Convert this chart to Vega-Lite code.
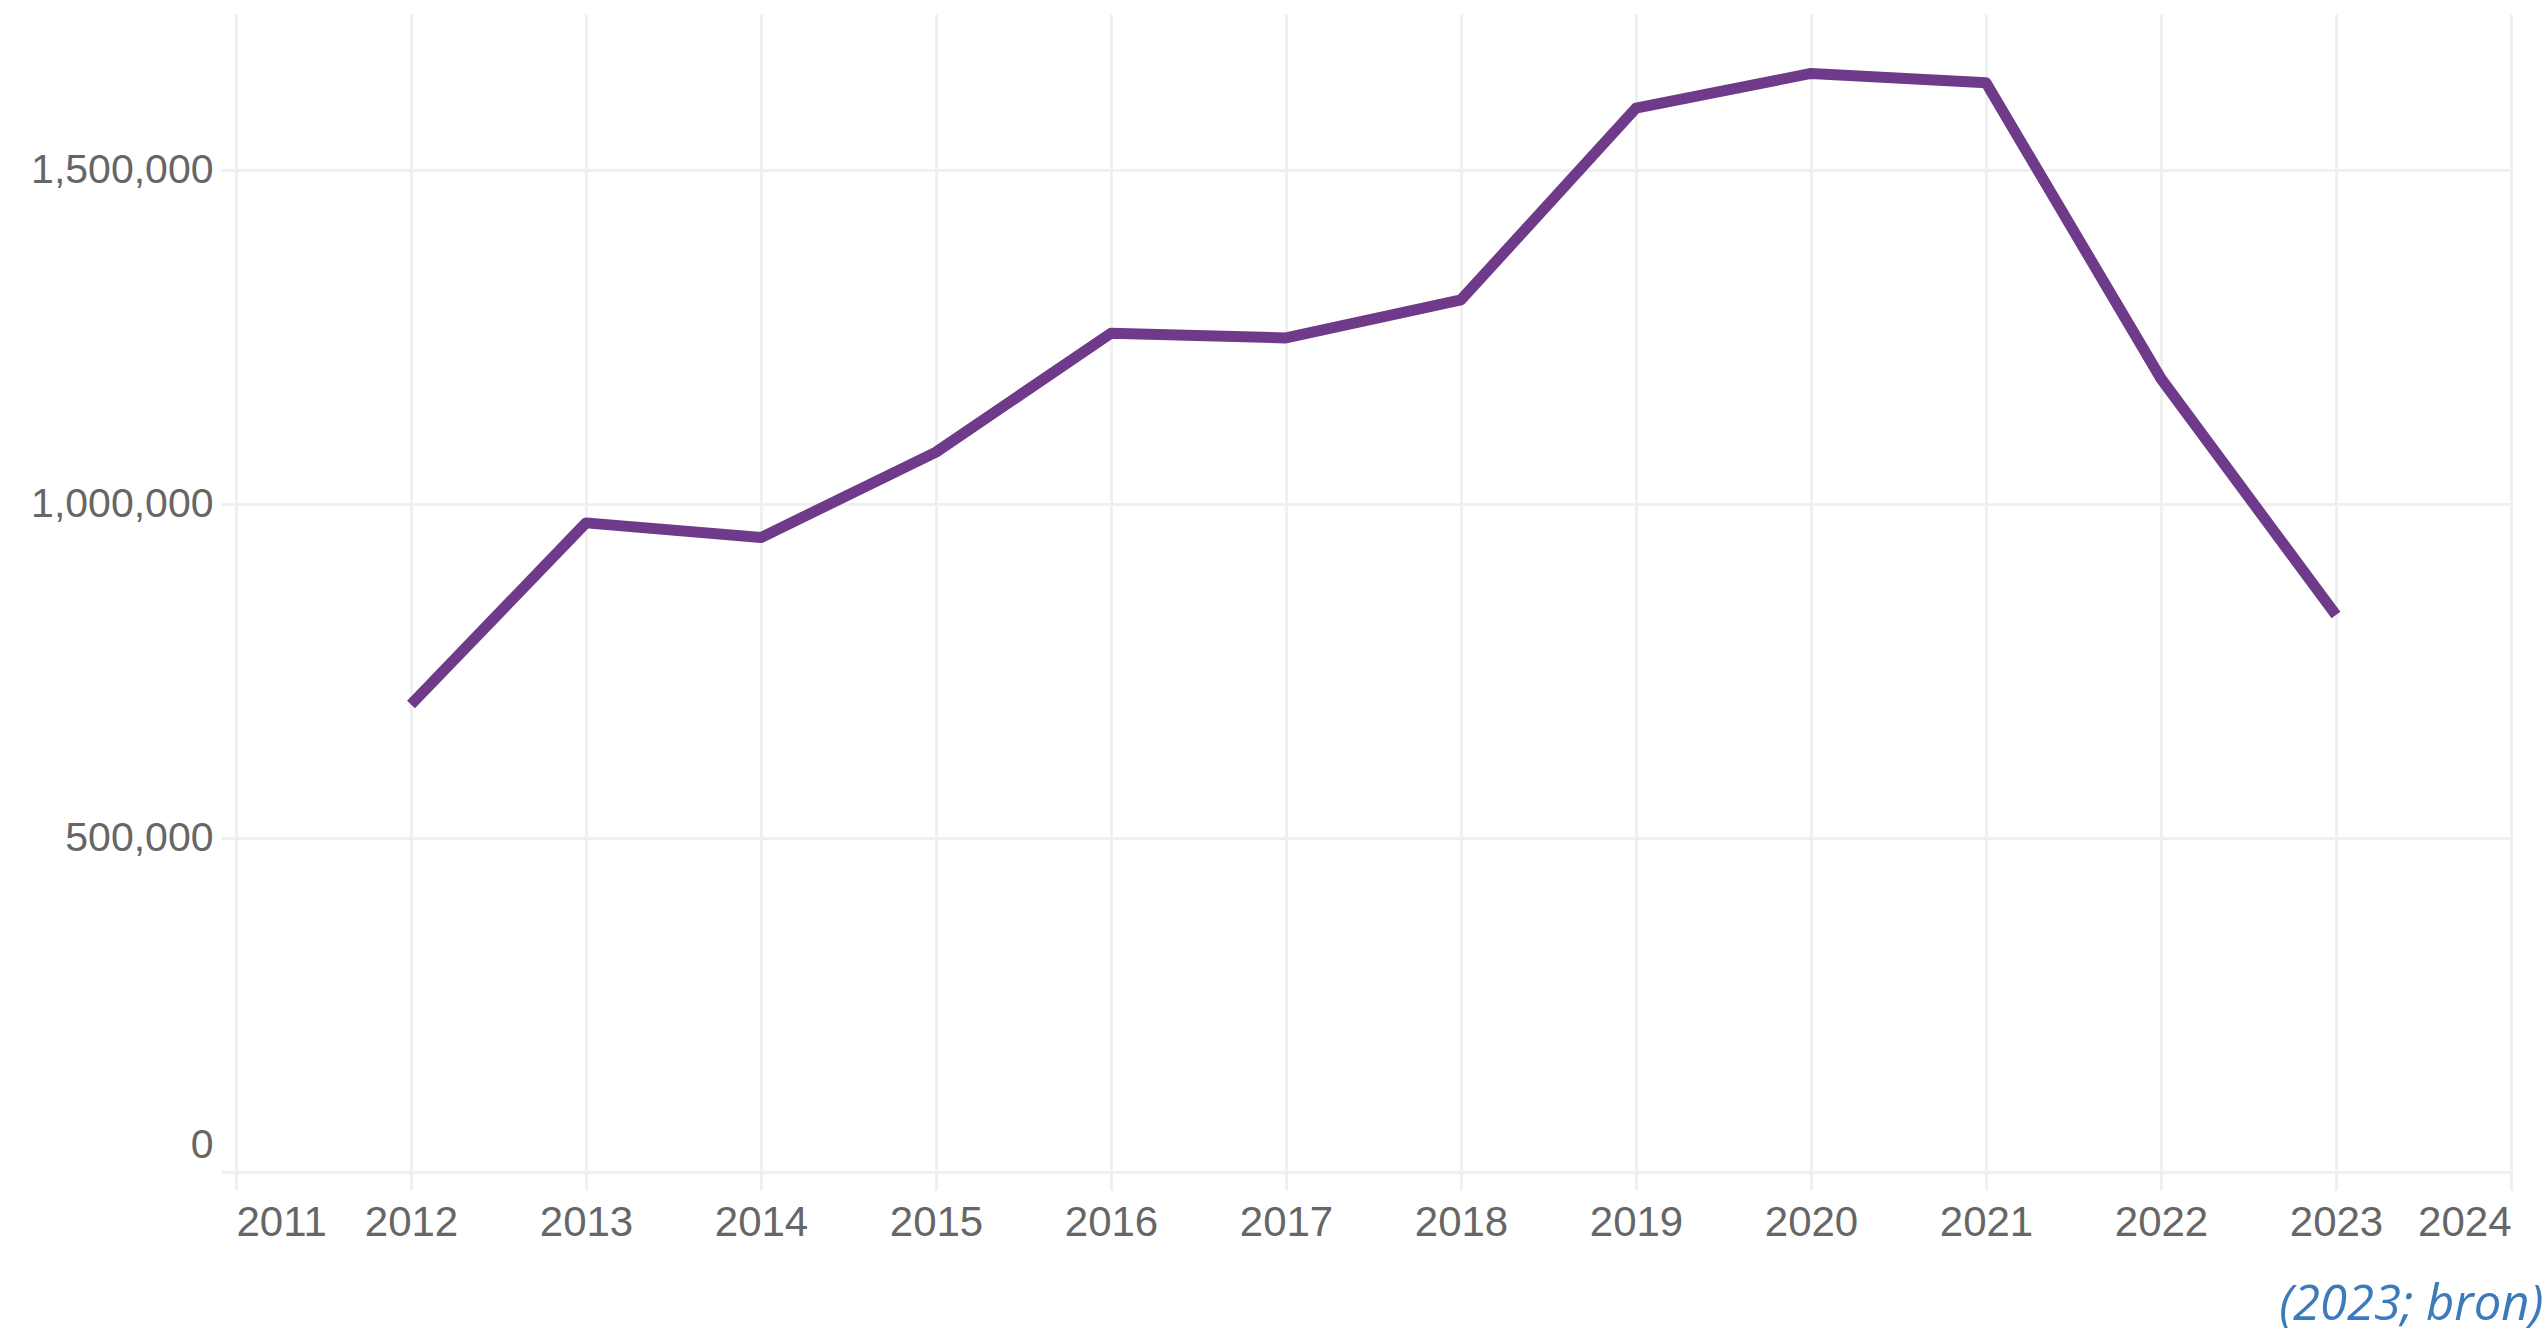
{
  "$schema": "https://vega.github.io/schema/vega-lite/v6.json",
  "width": 2275,
  "height": 1158,
  "autosize": "none",
  "padding": {"left": 236, "top": 14, "right": 35, "bottom": 165},
  "background": "white",
  "config": {"view": {"stroke": null}},
  "title": {
    "text": "(2023; bron)",
    "orient": "bottom",
    "anchor": "end",
    "font": "Open Sans",
    "fontStyle": "italic",
    "fontWeight": "normal",
    "fontSize": 49,
    "color": "#3b7bba",
    "offset": 38,
    "dx": 31
  },
  "data": {
    "values": [
      {"year": 2012, "value": 700000},
      {"year": 2013, "value": 972000},
      {"year": 2014, "value": 950000},
      {"year": 2015, "value": 1078000},
      {"year": 2016, "value": 1256000},
      {"year": 2017, "value": 1249000},
      {"year": 2018, "value": 1306000},
      {"year": 2019, "value": 1593000},
      {"year": 2020, "value": 1645000},
      {"year": 2021, "value": 1631000},
      {"year": 2022, "value": 1188000},
      {"year": 2023, "value": 834000}
    ]
  },
  "mark": {"type": "line", "color": "#6f3a8a", "strokeWidth": 11, "strokeJoin": "round"},
  "encoding": {
    "x": {
      "field": "year",
      "type": "quantitative",
      "scale": {"domain": [2011, 2024], "nice": false, "zero": false},
      "axis": {
        "title": null,
        "values": [2011, 2012, 2013, 2014, 2015, 2016, 2017, 2018, 2019, 2020, 2021, 2022, 2023, 2024],
        "format": "d",
        "domain": false,
        "grid": true,
        "gridColor": "#f0f0f0",
        "gridWidth": 3,
        "ticks": true,
        "tickColor": "#f0f0f0",
        "tickWidth": 3,
        "tickSize": 18,
        "labelFlush": true,
        "labelFont": "Liberation Sans",
        "labelFontSize": 42,
        "labelColor": "#666666",
        "labelPadding": 12,
        "labelOverlap": false
      }
    },
    "y": {
      "field": "value",
      "type": "quantitative",
      "scale": {"domain": [0, 1734000], "nice": false},
      "axis": {
        "title": null,
        "values": [0, 500000, 1000000, 1500000],
        "format": ",d",
        "domain": false,
        "grid": true,
        "gridColor": "#f0f0f0",
        "gridWidth": 3,
        "ticks": true,
        "tickColor": "#f0f0f0",
        "tickWidth": 3,
        "tickSize": 15,
        "labelFlush": true,
        "labelFlushOffset": -6,
        "labelLimit": 0,
        "labelFont": "Liberation Sans",
        "labelFontSize": 41,
        "labelColor": "#666666",
        "labelPadding": 8
      }
    }
  }
}
